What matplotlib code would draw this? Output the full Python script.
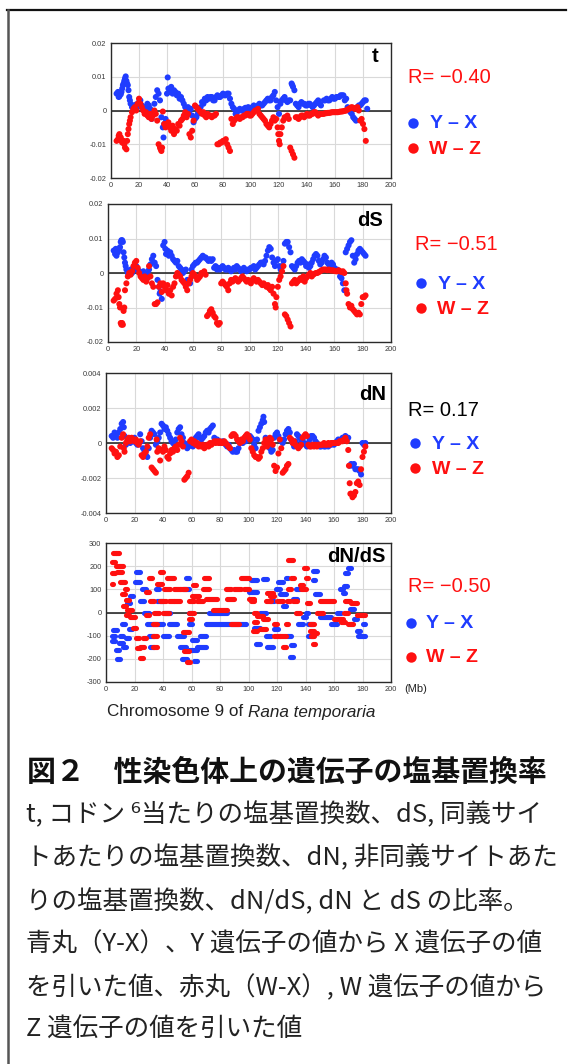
import matplotlib
matplotlib.use('Agg')
import matplotlib.pyplot as plt
import numpy as np
from matplotlib.lines import Line2D

W, H, DPI = 574, 1064, 100
BLUE = '#1f3cff'
RED = '#ff1010'

# ---------------- data (x in Mb) ----------------
x_ticks = [0, 20, 40, 60, 80, 100, 120, 140, 160, 180, 200]

# t panel, y in units of 0.001
t_yx = [(4,5.0),(5,5.5),(5.5,4.0),(6,4.2),(7,4.8),(7.5,5.5),(8,6.5),(8.5,7.5),(9,8.0),(9.5,8.8),(10,9.5),(10.5,10.1),(11,8.8),(11.5,8.0),(12,7.5),(12.5,6.0),(13,4.0),(13.5,3.0),(14,2.0),(15,1.0),(16,1.5),(17,0.5),(18,1.8),(19,1.0),(20,2.5),(21,3.0),(22,1.5),(23,0.5),(24,1.0),(25,0.0),(26,2.0),(27,1.5),(28,0.5),(29,-2.5),(30,-1.0),(31,2.0),(32,4.0),(33,6.0),(34,5.0),(35,3.0),(36,-2.0),(37,-5.0),(37.5,-8.0),(38,-4.0),(39,-2.5),(40,5.0),(40.5,9.8),(41,6.5),(42,5.5),(43,7.0),(44,5.0),(45,6.0),(46,5.5),(47,4.5),(48,5.0),(49,3.5),(50,4.0),(51,3.0),(52,2.0),(53,1.0),(54,0.0),(55,1.0),(56,-1.0),(57,0.5),(58,-1.5),(59,-3.5),(60,-2.5),(61,-2.0),(62,-1.0),(63,0.0),(64,1.0),(65,2.5),(66,2.0),(67,3.5),(68,3.0),(69,4.0),(70,3.5),(71,4.0),(72,4.0),(73,3.0),(74,3.0),(75,4.0),(76,4.5),(77,4.0),(78,4.0),(79,4.5),(80,5.0),(81,4.5),(82,4.5),(83,5.0),(84,5.0),(85,3.5),(86,2.0),(87,1.0),(88,0.5),(89,-1.0),(90,-0.5),(91,0.0),(92,0.5),(93,0.0),(94,0.0),(95,0.5),(96,0.8),(97,0.5),(98,1.0),(99,0.5),(100,0.5),(101,1.0),(102,1.5),(103,1.0),(104,1.0),(105,1.5),(106,2.0),(107,1.5),(108,1.5),(109,2.0),(110,2.5),(111,3.0),(112,3.5),(113,3.0),(114,3.0),(115,4.0),(116,4.5),(117,5.5),(118,3.0),(119,1.0),(120,-1.0),(121,2.0),(122,3.0),(123,3.5),(124,4.0),(125,3.0),(126,2.5),(127,3.0),(128,3.0),(129,8.0),(129.5,7.5),(130,7.0),(131,6.0),(132,2.0),(133,1.5),(134,1.0),(135,2.0),(136,2.5),(137,2.0),(138,2.0),(139,1.5),(140,1.5),(141,2.0),(142,2.0),(143,1.5),(144,1.0),(145,1.5),(146,2.0),(147,2.5),(148,3.0),(149,2.0),(150,1.5),(152,3.0),(153,3.0),(154,3.5),(155,3.0),(156,3.0),(157,3.5),(158,4.0),(159,3.5),(160,3.5),(161,4.0),(162,4.0),(163,4.0),(164,4.5),(165,4.5),(166,4.5),(167,3.0),(168,3.5),(169,1.0),(170,0.0),(171,-0.5),(172,-1.0),(173,-2.0),(174,-2.5),(175,-3.0),(176,1.0),(177,1.5),(178,1.5),(179,2.0),(180,2.5),(181,3.0),(182,3.0),(183,0.5)]
t_wz = [(4,-9.0),(5,-8.5),(5.5,-7.5),(6,-7.0),(6.5,-8.0),(7,-8.0),(7.5,-9.0),(8,-9.5),(9,-9.0),(9.5,-10.0),(10,-11.0),(11,-11.5),(11.5,-9.0),(12,-7.0),(12.5,-5.5),(13,-4.0),(13.5,-3.0),(14,-2.0),(15,-0.5),(16,0.5),(17,1.0),(18,0.0),(19,2.0),(20,3.5),(21,2.0),(22,1.0),(23,0.0),(24,-1.0),(25,-0.5),(26,-1.5),(27,-2.0),(28,-1.0),(29,-2.5),(30,-1.5),(31,0.0),(32,-1.0),(33,-3.0),(34,-10.0),(35,-11.0),(35.5,-11.5),(36,-12.0),(36.5,-11.0),(37,-0.3),(38,-4.0),(39,-5.0),(40,-4.0),(41,-3.5),(42,-5.0),(43,-6.0),(44,-4.5),(45,-7.0),(46,-5.5),(47,-6.0),(48,-4.0),(49,-4.5),(50,-3.0),(51,-2.5),(52,-1.5),(53,-0.5),(54,-2.0),(55,-1.0),(56,-7.0),(57,-8.0),(58,-6.0),(59,-3.0),(60,1.5),(61,1.0),(62,0.5),(63,0.0),(64,-0.5),(65,-1.0),(66,-0.5),(67,-1.5),(68,-2.0),(69,-1.0),(70,-1.5),(71,-1.5),(72,-2.0),(73,-1.5),(74,-1.5),(75,-1.0),(76,-10.0),(77,-10.0),(78,-9.5),(79,-9.5),(80,-9.0),(81,-9.0),(82,-8.5),(83,-10.0),(84,-11.0),(85,-12.0),(86,-2.5),(87,-4.0),(88,-3.0),(89,-2.5),(90,-2.0),(91,-2.0),(92,-2.5),(93,-2.0),(94,-2.0),(95,-1.5),(96,-1.5),(97,-1.0),(98,-1.0),(99,-1.5),(100,-1.5),(101,-1.0),(102,-0.5),(103,0.0),(104,0.0),(105,0.5),(106,-1.0),(107,-1.5),(108,-2.0),(109,-2.5),(110,-3.0),(111,-4.0),(112,-4.5),(113,-5.0),(114,-4.0),(115,-3.0),(116,-2.0),(117,-3.0),(118,-2.5),(119,-5.0),(119.5,-7.0),(120,-9.0),(120.5,-10.0),(121,-7.0),(122,-5.0),(123,-3.0),(124,-2.0),(125,-2.0),(126,-1.5),(127,-2.5),(128,-11.0),(129,-12.0),(130,-13.0),(131,-14.0),(132,-2.0),(133,-2.0),(134,-2.5),(135,-2.0),(136,-1.5),(137,-1.5),(138,-2.0),(139,-1.5),(140,-1.0),(141,-1.5),(142,-1.5),(143,-1.0),(144,-1.0),(145,-0.5),(146,-0.5),(147,-1.0),(148,-1.5),(149,-1.0),(150,-1.0),(151,-1.0),(152,-1.0),(153,-0.8),(154,-0.8),(155,-0.7),(156,-0.7),(157,-0.6),(158,-0.5),(159,-0.5),(160,-0.5),(161,-0.5),(162,-0.5),(163,-0.4),(164,-0.3),(165,-0.3),(166,-0.2),(167,-0.1),(168,0.0),(169,0.3),(170,0.5),(171,0.8),(172,1.0),(173,0.8),(174,0.5),(175,0.8),(176,1.0),(177,0.0),(178,-3.0),(179,-2.5),(180,-4.0),(181,-5.5),(182,-9.0)]

# dS panel, y in units of 0.001
ds_yx = [(4,6.5),(5,5.5),(5.5,7.0),(6,5.0),(7,6.0),(8,7.0),(8.5,7.5),(9,9.0),(9.5,9.5),(10,9.5),(10.5,9.0),(11,6.0),(11.5,4.5),(12,3.0),(12.5,2.0),(13,1.0),(14,0.0),(15,0.5),(16,1.0),(17,0.0),(18,1.5),(19,1.0),(20,2.0),(21,1.0),(22,0.5),(23,0.0),(24,-0.5),(25,0.5),(26,-1.0),(27,-2.0),(28,0.0),(29,1.0),(30,2.5),(31,4.0),(32,5.0),(33,3.0),(34,2.0),(35,-2.0),(36,-4.0),(36.5,-6.0),(37,-5.5),(38,-7.5),(39,8.0),(40,9.0),(40.5,7.0),(41,5.5),(42,6.5),(43,5.0),(44,6.0),(45,5.0),(46,4.0),(47,3.5),(48,3.0),(49,3.5),(50,2.0),(51,1.5),(52,1.0),(53,0.0),(54,0.5),(55,1.0),(56,-2.0),(57,-2.5),(58,-3.0),(59,1.0),(60,2.0),(61,2.5),(62,3.0),(63,3.0),(64,3.5),(65,4.0),(66,4.5),(67,5.0),(68,4.5),(69,4.5),(70,4.0),(71,3.5),(72,4.0),(73,3.5),(74,4.0),(75,1.5),(76,2.0),(77,1.0),(78,1.5),(79,1.0),(80,1.5),(81,2.0),(82,1.5),(83,1.0),(84,1.0),(85,1.5),(86,1.0),(87,0.5),(88,1.0),(89,1.5),(90,1.0),(91,2.0),(92,1.5),(93,1.0),(94,0.5),(95,1.0),(96,1.5),(97,1.0),(98,0.5),(99,1.0),(100,1.0),(101,1.5),(102,1.5),(103,2.0),(104,1.0),(105,1.5),(106,2.0),(107,2.5),(108,3.0),(109,3.0),(110,2.5),(111,3.5),(112,5.0),(113,6.5),(114,7.5),(115,7.0),(116,4.5),(117,3.0),(118,2.0),(119,3.5),(120,4.0),(121,2.0),(122,1.0),(123,2.0),(124,3.5),(125,8.5),(126,9.0),(127,9.0),(128,7.5),(129,6.0),(130,2.0),(131,1.5),(132,1.0),(133,2.0),(134,3.0),(135,3.5),(136,3.0),(137,4.0),(138,3.5),(139,3.0),(140,2.0),(141,2.5),(142,1.5),(143,2.0),(144,3.0),(145,4.0),(146,5.0),(147,5.5),(148,5.0),(149,3.5),(150,2.5),(151,3.0),(152,4.0),(153,5.0),(154,4.5),(155,3.0),(156,2.5),(157,2.0),(158,3.0),(159,2.5),(160,1.5),(161,1.0),(162,1.0),(163,0.5),(164,-1.0),(165,-1.5),(166,-3.0),(167,-5.0),(168,6.0),(169,7.0),(170,8.0),(171,9.0),(172,9.5),(173,5.0),(174,3.0),(175,4.0),(176,5.5),(177,6.5),(178,7.0),(179,6.5),(180,6.0),(181,5.5),(182,5.0)]
ds_wz = [(4,-8.0),(5,-7.5),(6,-6.0),(7,-5.0),(7.5,-7.0),(8,-9.0),(8.5,-10.0),(9,-14.5),(9.5,-15.0),(10,-14.5),(10.5,-15.0),(11,-11.0),(11.5,-10.0),(12,-5.0),(13,-3.0),(14,-1.0),(15,0.0),(16,-0.5),(17,0.5),(18,2.0),(19,3.0),(20,3.5),(21,1.5),(22,0.0),(23,-1.0),(24,-1.5),(25,-2.0),(26,-1.0),(27,-2.5),(28,-1.5),(29,2.0),(30,-1.0),(31,-3.0),(32,-4.0),(33,-9.0),(34,-9.0),(35,-8.5),(36,-4.0),(37,-3.0),(38,-5.5),(39,-3.0),(40,-4.0),(41,-5.0),(42,-3.5),(43,-6.0),(44,-5.0),(45,-6.5),(46,-4.0),(47,-3.0),(48,-1.0),(49,0.0),(50,-0.5),(51,-1.0),(52,-2.0),(53,-2.5),(54,-3.0),(55,-4.0),(56,-5.0),(57,-3.0),(58,-2.0),(59,-1.0),(60,0.0),(61,-0.5),(62,-1.0),(63,-2.0),(64,-1.5),(65,-1.0),(66,0.0),(67,0.0),(68,0.5),(69,-0.5),(70,-12.5),(71,-12.0),(72,-11.0),(73,-10.5),(74,-11.5),(75,-12.5),(76,-13.0),(77,-14.5),(78,-15.0),(79,-14.5),(80,-3.0),(81,-2.5),(82,-3.0),(83,-3.5),(84,-4.0),(85,-5.0),(86,-3.0),(87,-2.0),(88,-2.5),(89,-2.0),(90,-1.5),(91,-2.0),(92,-2.5),(93,-2.0),(94,-1.5),(95,-1.0),(96,-1.5),(97,-2.0),(98,-2.5),(99,-2.0),(100,-2.5),(101,-3.0),(102,-2.0),(103,-1.5),(104,-2.0),(105,-2.5),(106,-2.0),(107,-2.5),(108,-3.0),(109,-3.5),(110,-3.0),(111,-3.5),(112,-4.0),(113,-3.5),(114,-4.5),(115,-5.0),(116,-4.0),(117,-6.0),(118,-9.0),(118.5,-10.0),(119,-7.0),(120,-4.0),(121,-2.0),(122,-1.0),(123,0.5),(124,2.0),(125,-12.0),(126,-12.5),(127,-13.5),(128,-14.5),(129,-15.5),(130,-3.0),(131,-2.5),(132,-2.0),(133,-3.0),(134,-2.5),(135,-2.0),(136,-1.5),(137,-2.0),(138,-1.0),(139,-2.5),(140,-1.5),(141,-1.0),(142,-0.5),(143,0.0),(144,-1.0),(145,-0.5),(146,-0.2),(147,0.0),(148,0.0),(149,0.3),(150,0.5),(151,0.8),(152,1.0),(153,1.0),(154,1.0),(155,0.8),(156,1.0),(157,0.8),(158,0.7),(159,0.8),(160,0.6),(161,0.5),(162,0.5),(163,0.8),(164,0.5),(165,0.3),(166,0.5),(167,0.0),(168,-3.0),(168.5,-5.0),(169,-6.0),(170,-9.0),(171,-10.0),(172,-9.5),(173,-10.5),(174,-11.0),(175,-11.5),(176,-12.0),(177,-11.5),(178,-12.0),(179,-9.0),(180,-7.0),(181,-7.0),(182,-6.5)]

# dN panel, y in units of 0.001
dn_yx = [(4,0.4),(5,0.3),(6,0.6),(7,0.5),(8,0.3),(9,0.6),(10,0.8),(11,1.1),(12,1.2),(12.5,0.9),(13,0.4),(14,-0.1),(15,0.1),(16,0.2),(17,0.0),(18,0.2),(19,0.1),(20,0.3),(21,0.0),(22,-0.1),(23,0.0),(24,0.5),(25,0.1),(26,-0.3),(27,-0.5),(28,-0.7),(29,-0.8),(30,-0.3),(31,0.3),(32,0.7),(33,0.6),(34,0.5),(35,-0.1),(36,0.1),(37,0.3),(38,0.6),(39,1.1),(40,1.0),(41,0.8),(42,0.9),(43,0.7),(44,0.5),(45,0.3),(46,0.1),(47,0.0),(48,-0.1),(49,0.2),(50,0.6),(51,0.8),(52,0.9),(53,0.5),(54,0.3),(55,0.0),(56,-0.1),(57,-0.3),(58,-0.2),(59,0.0),(60,0.1),(61,-0.2),(62,0.0),(63,0.3),(64,0.4),(65,0.5),(66,0.3),(67,0.2),(68,0.3),(69,0.4),(70,0.6),(71,0.7),(72,0.6),(73,0.8),(74,0.9),(75,1.0),(76,0.3),(77,0.2),(78,0.2),(79,0.1),(80,0.0),(81,0.0),(82,0.1),(83,0.0),(84,-0.1),(85,-0.2),(86,-0.1),(87,-0.3),(88,-0.4),(89,-0.5),(90,-0.4),(91,-0.5),(92,-0.5),(93,-0.3),(94,0.0),(95,0.1),(96,0.0),(97,0.2),(98,0.1),(99,0.2),(100,0.3),(101,0.4),(102,0.3),(103,0.2),(104,-0.1),(105,-0.3),(106,0.2),(107,0.7),(108,0.9),(109,1.1),(110,1.3),(110.5,1.5),(111,1.2),(112,0.3),(113,0.1),(114,0.0),(115,-0.3),(116,-0.5),(117,-0.4),(118,0.3),(119,0.5),(120,0.6),(121,0.4),(122,0.2),(123,0.1),(124,0.0),(125,0.2),(126,0.5),(127,0.7),(128,0.8),(129,0.6),(130,0.2),(131,0.0),(132,-0.2),(133,0.1),(134,0.5),(135,0.4),(136,0.3),(137,0.1),(138,0.2),(139,0.0),(140,-0.1),(141,-0.2),(142,0.0),(143,0.2),(144,0.4),(145,0.4),(146,0.3),(147,0.1),(148,0.0),(149,-0.1),(150,-0.2),(151,-0.2),(152,-0.1),(153,-0.2),(154,-0.2),(155,-0.1),(156,-0.2),(157,-0.1),(158,-0.1),(159,0.0),(160,-0.1),(161,0.0),(162,0.1),(163,0.2),(164,0.1),(165,0.2),(166,0.3),(167,0.3),(168,0.4),(169,0.2),(170,0.3),(171,-1.3),(172,-1.2),(173,-1.3),(174,-1.2),(175,-1.5),(176,-1.5),(177,-1.5),(178,-1.6),(179,-1.8),(180,0.0),(181,-0.1),(182,0.0)]
dn_wz = [(4,-0.3),(5,-0.4),(6,-0.6),(7,-0.5),(8,-0.8),(9,-0.7),(10,-0.2),(11,0.3),(12,0.5),(12.5,-0.3),(13,-0.5),(14,0.0),(15,0.2),(16,0.3),(17,0.1),(18,0.3),(19,0.2),(20,0.1),(21,0.2),(22,0.0),(23,-0.1),(24,0.1),(25,-0.7),(26,-0.8),(27,-0.6),(28,-0.5),(29,-0.2),(30,0.3),(31,0.5),(32,-1.4),(33,-1.5),(34,-1.6),(35,-1.7),(35.5,0.2),(36,-0.5),(37,-0.3),(38,-1.0),(39,-0.4),(40,-0.5),(41,-0.2),(42,-0.4),(43,-0.8),(44,-0.9),(45,-0.6),(46,-0.4),(47,-0.5),(48,-0.3),(49,-0.2),(50,-0.4),(51,-0.1),(52,0.3),(53,0.1),(54,-0.2),(55,-2.1),(56,-2.0),(57,-1.9),(58,-1.7),(59,0.1),(60,0.2),(61,0.0),(62,0.1),(63,-0.1),(64,0.0),(65,-0.2),(66,-0.1),(67,-0.2),(68,-0.1),(69,-0.3),(70,-0.2),(71,-0.1),(72,-0.2),(73,0.0),(74,-0.1),(75,0.0),(76,0.1),(77,0.0),(78,0.1),(79,0.0),(80,0.1),(81,0.0),(82,0.0),(83,0.1),(84,0.0),(85,-0.1),(86,-0.2),(87,-0.3),(88,0.4),(89,0.5),(90,0.5),(91,0.4),(92,0.2),(93,0.1),(94,0.0),(95,0.2),(96,0.1),(97,0.3),(98,0.4),(99,0.5),(100,0.4),(101,0.2),(102,-0.3),(103,-0.5),(104,-0.7),(105,-0.8),(106,-0.8),(107,-0.9),(108,-0.8),(109,-0.5),(110,-0.3),(111,0.0),(112,0.2),(113,-0.2),(114,0.0),(115,0.3),(116,0.2),(117,-0.1),(118,-1.3),(119,-1.6),(120,-1.4),(121,-0.6),(122,0.2),(123,-0.3),(124,-1.7),(125,-1.6),(126,-1.5),(127,-1.3),(128,-1.2),(129,0.3),(130,0.2),(131,0.0),(132,0.1),(133,-0.1),(134,-0.2),(135,-0.3),(136,-0.2),(137,-0.1),(138,0.3),(139,0.4),(140,0.5),(141,0.4),(142,-0.1),(143,-0.2),(144,-0.2),(145,-0.1),(146,-0.2),(147,-0.1),(148,-0.2),(149,-0.1),(150,-0.1),(151,-0.1),(152,-0.1),(153,0.0),(154,-0.1),(155,-0.1),(156,0.0),(157,-0.1),(158,0.0),(159,0.0),(160,0.0),(161,0.0),(162,0.0),(163,0.0),(164,0.1),(165,0.1),(166,0.1),(167,0.2),(168,0.3),(169,0.1),(170,-0.4),(170.5,-1.3),(171,-2.3),(171.5,-2.9),(172,-2.9),(173,-3.1),(174,-3.0),(175,-2.8),(176,-2.3),(177,-2.2),(178,-2.4),(179,-1.5),(180,-0.8),(181,-0.5),(182,-0.2)]

# dN/dS panel: runs of points (x_start, x_end, value)
dnds_yx = [(4,6,-100),(5,8,-75),(4,6,-125),(7,9,-160),(8,10,-200),(9,12,-130),(11,13,-50),(10,12,-100),(12,14,-150),(14,16,-110),(16,18,-70),(15,17,40),(17,19,70),(20,24,130),(21,24,175),(24,27,50),(25,28,100),(27,30,0),(29,33,-50),(30,34,-100),(31,34,-150),(35,37,100),(33,40,-50),(36,40,50),(40,44,-100),(41,45,0),(44,50,-50),(50,55,-100),(52,56,-150),(53,57,-200),(54,58,100),(56,58,150),(58,64,-160),(58,60,0),(58,60,-50),(60,64,-120),(62,64,-210),(64,70,-150),(66,70,-100),(70,98,-50),(72,85,0),(100,106,90),(102,106,140),(105,108,-135),(104,108,-65),(108,112,0),(110,113,145),(112,116,-100),(113,117,-150),(115,118,50),(118,121,-70),(119,122,100),(121,124,130),(122,126,80),(124,126,30),(126,128,150),(127,130,-100),(129,131,-190),(130,132,-140),(131,134,60),(133,136,100),(135,138,-50),(138,140,-20),(140,142,0),(142,145,-50),(142,145,-100),(145,148,180),(145,147,140),(147,150,80),(150,158,-20),(158,162,-50),(162,165,0),(164,166,100),(166,168,85),(167,169,115),(168,170,170),(170,172,190),(171,174,15),(174,176,-30),(176,178,-80),(177,182,-100),(180,182,-50)]
dnds_wz = [(4,5,125),(4,6,170),(4,6,220),(5,7,255),(7,9,255),(7,10,200),(8,11,175),(10,12,200),(10,13,130),(11,13,80),(12,14,30),(13,15,100),(14,16,55),(14,16,-10),(15,18,10),(17,20,-20),(19,21,-65),(21,23,-110),(22,24,-155),(24,26,-195),(24,27,-150),(26,28,-110),(28,30,-10),(28,30,90),(30,32,150),(31,34,50),(33,36,-50),(33,36,-100),(33,36,-150),(34,37,0),(36,39,125),(38,40,175),(38,42,50),(41,45,100),(40,44,0),(43,48,150),(44,48,50),(48,52,100),(48,52,50),(52,56,100),(54,58,-85),(55,58,-165),(57,59,-215),(58,60,-30),(58,62,0),(58,62,50),(60,65,70),(61,63,120),(64,68,50),(68,72,100),(69,72,150),(70,78,60),(75,85,10),(84,88,100),(85,90,60),(88,93,-50),(90,95,100),(95,100,150),(97,100,100),(100,104,60),(102,104,50),(103,106,-80),(104,106,0),(104,106,-40),(106,110,-15),(108,112,-70),(110,114,-30),(112,116,50),(113,117,85),(115,118,70),(118,122,-100),(118,120,-50),(120,124,50),(122,126,-100),(124,126,-150),(126,128,-50),(127,129,50),(128,130,100),(128,131,225),(130,132,150),(131,134,50),(133,136,0),(136,138,120),(137,140,100),(139,141,190),(140,142,150),(141,143,40),(143,146,-50),(143,146,-80),(144,146,-100),(145,147,-135),(146,148,-90),(148,152,0),(150,160,50),(160,166,-30),(165,168,-40),(167,170,0),(168,171,50),(170,173,-50),(172,176,40),(176,182,-10)]

panel_titles = ['t', 'dS', 'dN', 'dN/dS']
r_labels = ['R= \u22120.40', 'R= \u22120.51', 'R= 0.17', 'R= \u22120.50']
r_colors = [RED, RED, 'black', RED]
y_ticks = [[-0.02, -0.01, 0, 0.01, 0.02], [-0.02, -0.01, 0, 0.01, 0.02],
           [-0.004, -0.002, 0, 0.002, 0.004], [-300, -200, -100, 0, 100, 200, 300]]
y_ticklabels = [['-0.02', '-0.01', '0', '0.01', '0.02'], ['-0.02', '-0.01', '0', '0.01', '0.02'],
                ['-0.004', '-0.002', '0', '0.002', '0.004'],
                ['-300', '-200', '-100', '0', '100', '200', '300']]
series_labels = ['Y \u2013 X', 'W \u2013 Z']

caption_title = '図２\u3000性染色体上の遺伝子の塩基置換率'
caption_lines = ['t, コドン \u2076当たりの塩基置換数、dS, 同義サイ',
                 'トあたりの塩基置換数、dN, 非同義サイトあた',
                 'りの塩基置換数、dN/dS, dN と dS の比率。',
                 '青丸（Y-X）、Y 遺伝子の値から X 遺伝子の値',
                 'を引いた値、赤丸（W-X）, W 遺伝子の値から',
                 'Z 遺伝子の値を引いた値']

# ---------------- figure ----------------
fig = plt.figure(figsize=(W / DPI, H / DPI), dpi=DPI)

def fx(x):
    return x / W

def fy(y):
    return 1 - y / H

def rect(l, t, r, b):
    return [l / W, 1 - b / H, (r - l) / W, (b - t) / H]

ax_rects = [rect(111, 43, 391, 178), rect(108, 204, 391, 342),
            rect(106, 373, 391, 513), rect(106, 543, 391, 682)]

TICK_FONT = dict(family='Liberation Sans', size=5.3, color='#3a3a3a')

axes = []
for i, r in enumerate(ax_rects):
    ax = fig.add_axes(r)
    axes.append(ax)
    ax.set_xlim(0, 200)
    yt = y_ticks[i]
    ax.set_ylim(yt[0], yt[-1])
    ax.set_xticks(x_ticks)
    ax.set_xticklabels([str(v) for v in x_ticks], fontdict=TICK_FONT)
    ax.set_yticks(yt)
    ax.set_yticklabels(y_ticklabels[i], fontdict=TICK_FONT)
    ax.tick_params(length=0, pad=3.2)
    ax.grid(True, color='#d9d9d9', lw=0.8, zorder=0)
    ax.set_axisbelow(True)
    for s in ax.spines.values():
        s.set_color('#2a2a2a')
        s.set_linewidth(1.0)
    ax.axhline(0, color='#1a1a1a', lw=1.1, zorder=1.5)

def draw_pts(ax, pairs, color, scale):
    xs = [p[0] for p in pairs]
    ys = np.array([p[1] for p in pairs]) * scale
    ax.scatter(xs, ys, s=19, c=color, edgecolors='none', zorder=3)

draw_pts(axes[0], t_yx, BLUE, 1e-3)
draw_pts(axes[0], t_wz, RED, 1e-3)
draw_pts(axes[1], ds_yx, BLUE, 1e-3)
draw_pts(axes[1], ds_wz, RED, 1e-3)
draw_pts(axes[2], dn_yx, BLUE, 1e-3)
draw_pts(axes[2], dn_wz, RED, 1e-3)

def draw_runs(ax, runs, color):
    ys = [r[2] for r in runs]
    x0 = [r[0] for r in runs]
    x1 = [r[1] for r in runs]
    lc = ax.hlines(ys, x0, x1, colors=color, lw=3.7, zorder=3)
    lc.set_capstyle('round')

draw_runs(axes[3], dnds_yx, BLUE)
draw_runs(axes[3], dnds_wz, RED)

# panel titles
title_pos = [(378, 57), (383, 221), (386, 394), (385, 556)]
for (x, y), t in zip(title_pos, panel_titles):
    fig.text(fx(x), fy(y), t, ha='right', va='center', fontsize=14.5,
             fontweight='bold', family='Liberation Sans', color='black')

# right-hand annotations
r_pos = [(408, 77), (415, 244), (408, 410), (408, 587)]
dot_pos = [((413, 123), (413, 148)), ((421, 283), (421, 308)),
           ((415, 443), (415, 468)), ((411, 623), (411, 657))]
lab_x = [(430, 429), (438, 437), (432, 432), (426, 426)]
for i in range(4):
    x, y = r_pos[i]
    fig.text(fx(x), fy(y), r_labels[i], ha='left', va='center', fontsize=14.5,
             family='Liberation Sans', color=r_colors[i])
    for j, col in enumerate([BLUE, RED]):
        dx, dy = dot_pos[i][j]
        fig.add_artist(Line2D([fx(dx)], [fy(dy)], marker='o', markersize=7.5,
                              color=col, markeredgewidth=0, transform=fig.transFigure))
        fig.text(fx(lab_x[i][j]), fy(dy + 1), series_labels[j], ha='left', va='center',
                 fontsize=14, fontweight='bold', family='Liberation Sans', color=col)

fig.text(fx(404), fy(689), '(Mb)', ha='left', va='center', fontsize=8,
         family='Liberation Sans', color='#222222')
fig.text(fx(107), fy(712), 'Chromosome 9 of ', ha='left', va='center', fontsize=12.3,
         family='Liberation Sans', color='#222222')
tmp = fig.text(0, 0, 'Chromosome 9 of ', fontsize=12.3, family='Liberation Sans')
fig.canvas.draw()
wpx = tmp.get_window_extent().width
tmp.remove()
fig.text(fx(107 + wpx), fy(712), 'Rana temporaria', ha='left', va='center', fontsize=12.3,
         family='Liberation Sans', style='italic', color='#222222')

# frame
fig.add_artist(Line2D([fx(7), fx(566)], [fy(9.5), fy(9.5)], color='#111111', lw=1.6,
                      transform=fig.transFigure))
fig.add_artist(Line2D([fx(7.5), fx(7.5)], [fy(9.5), fy(1064)], color='#555555', lw=1.8,
                      transform=fig.transFigure))

# caption
JP = ['Noto Sans CJK JP', 'DejaVu Sans']
fig.text(fx(27), fy(772), caption_title, ha='left', va='center', fontsize=20.8,
         fontweight='bold', family=JP, color='#111111')
line_y = [815, 858, 902, 945, 988, 1030]
for y, s in zip(line_y, caption_lines):
    fig.text(fx(26), fy(y), s, ha='left', va='center', fontsize=18.4,
             family=JP, color='#222222')

fig.savefig('out.png', dpi=DPI)
